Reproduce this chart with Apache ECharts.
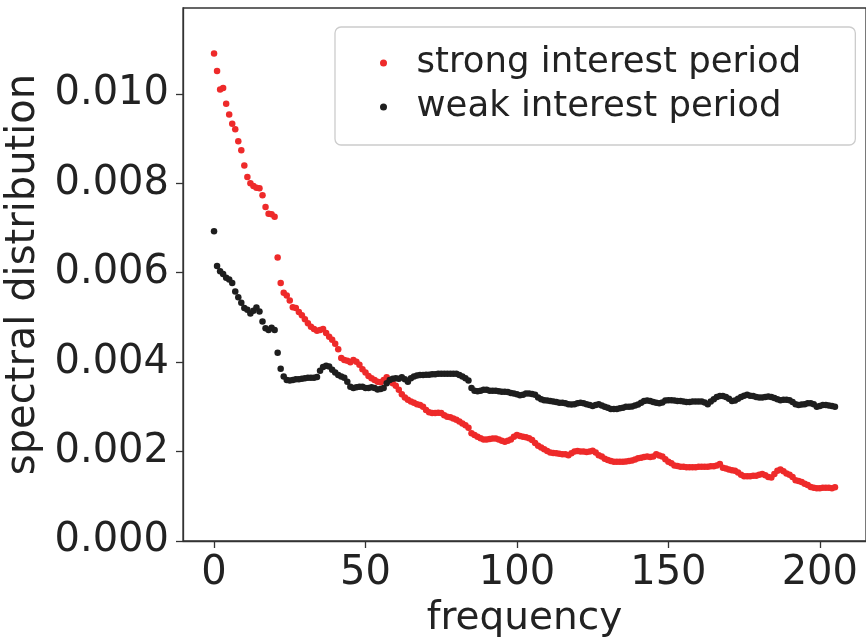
<!DOCTYPE html>
<html>
<head>
<meta charset="utf-8">
<script src="https://cdn.jsdelivr.net/npm/echarts@6/dist/echarts.min.js"></script>
<style>html,body{margin:0;padding:0;background:#fff;}#c{width:866px;height:641px;}</style>
</head>
<body>
<div id="c"></div>
<script>
var strongValues = [
0.01090,0.01051,0.01010,0.01013,0.00978,0.00954,0.00933,0.00921,0.00894,0.00874,
0.00840,0.00814,0.00800,0.00794,0.00790,0.00789,0.00773,0.00747,0.00732,0.00731,
0.00725,0.00634,0.00577,0.00555,0.00549,0.00538,0.00523,0.00521,0.00512,0.00505,
0.00496,0.00487,0.00479,0.00474,0.00470,0.00472,0.00474,0.00465,0.00457,0.00450,
0.00441,0.00429,0.00409,0.00405,0.00403,0.00400,0.00405,0.00401,0.00394,0.00384,
0.00377,0.00369,0.00364,0.00360,0.00356,0.00355,0.00360,0.00366,0.00360,0.00353,
0.00347,0.00338,0.00328,0.00321,0.00316,0.00312,0.00309,0.00306,0.00304,0.00300,
0.00293,0.00288,0.00286,0.00286,0.00287,0.00286,0.00281,0.00278,0.00277,0.00274,
0.00271,0.00267,0.00263,0.00259,0.00253,0.00241,0.00237,0.00233,0.00230,0.00227,
0.00227,0.00228,0.00229,0.00229,0.00227,0.00224,0.00222,0.00224,0.00227,0.00233,
0.00237,0.00235,0.00233,0.00232,0.00230,0.00226,0.00219,0.00213,0.00209,0.00205,
0.00201,0.00198,0.00197,0.00196,0.00195,0.00194,0.00194,0.00192,0.00196,0.00200,
0.00201,0.00200,0.00200,0.00199,0.00200,0.00202,0.00198,0.00192,0.00189,0.00184,
0.00181,0.00179,0.00177,0.00177,0.00177,0.00177,0.00178,0.00179,0.00180,0.00182,
0.00185,0.00186,0.00188,0.00189,0.00188,0.00189,0.00194,0.00191,0.00189,0.00183,
0.00177,0.00174,0.00169,0.00168,0.00166,0.00166,0.00165,0.00165,0.00165,0.00165,
0.00166,0.00166,0.00166,0.00166,0.00167,0.00167,0.00169,0.00172,0.00164,0.00162,
0.00160,0.00158,0.00157,0.00153,0.00148,0.00145,0.00145,0.00145,0.00146,0.00146,
0.00148,0.00150,0.00147,0.00143,0.00142,0.00150,0.00157,0.00160,0.00156,0.00151,
0.00148,0.00143,0.00136,0.00134,0.00132,0.00128,0.00125,0.00121,0.00119,0.00118,
0.00118,0.00119,0.00119,0.00119,0.00118,0.00120
];
var weakValues = [
0.00693,0.00615,0.00603,0.00597,0.00589,0.00585,0.00577,0.00558,0.00545,0.00533,
0.00521,0.00517,0.00509,0.00515,0.00522,0.00513,0.00491,0.00476,0.00472,0.00477,
0.00472,0.00421,0.00385,0.00368,0.00360,0.00359,0.00360,0.00362,0.00362,0.00363,
0.00364,0.00365,0.00365,0.00365,0.00367,0.00381,0.00389,0.00392,0.00390,0.00383,
0.00377,0.00371,0.00368,0.00365,0.00356,0.00345,0.00342,0.00344,0.00345,0.00345,
0.00342,0.00342,0.00344,0.00342,0.00339,0.00340,0.00342,0.00353,0.00360,0.00363,
0.00364,0.00363,0.00366,0.00362,0.00356,0.00364,0.00368,0.00370,0.00371,0.00371,
0.00372,0.00372,0.00373,0.00373,0.00374,0.00374,0.00374,0.00374,0.00374,0.00374,
0.00374,0.00371,0.00368,0.00364,0.00359,0.00342,0.00336,0.00335,0.00336,0.00338,
0.00338,0.00336,0.00336,0.00336,0.00335,0.00334,0.00334,0.00333,0.00331,0.00330,
0.00328,0.00326,0.00327,0.00330,0.00330,0.00329,0.00327,0.00321,0.00317,0.00315,
0.00314,0.00313,0.00312,0.00311,0.00309,0.00309,0.00308,0.00306,0.00305,0.00306,
0.00308,0.00309,0.00308,0.00306,0.00304,0.00302,0.00304,0.00306,0.00303,0.00300,
0.00298,0.00295,0.00295,0.00295,0.00297,0.00298,0.00300,0.00300,0.00301,0.00303,
0.00305,0.00309,0.00313,0.00314,0.00313,0.00311,0.00309,0.00308,0.00310,0.00314,
0.00315,0.00315,0.00314,0.00313,0.00313,0.00312,0.00311,0.00311,0.00312,0.00312,
0.00312,0.00312,0.00310,0.00306,0.00312,0.00317,0.00322,0.00324,0.00324,0.00322,
0.00318,0.00313,0.00314,0.00318,0.00322,0.00325,0.00327,0.00325,0.00324,0.00322,
0.00321,0.00321,0.00322,0.00323,0.00322,0.00320,0.00317,0.00315,0.00316,0.00316,
0.00315,0.00311,0.00306,0.00304,0.00305,0.00306,0.00308,0.00308,0.00306,0.00300,
0.00302,0.00304,0.00304,0.00303,0.00302,0.00300
];
var xTicks = [0, 50, 100, 150, 200];
var yTicks = [0, 0.002, 0.004, 0.006, 0.008, 0.010];
var seriesNames = ['strong interest period', 'weak interest period'];

function toPairs(vals) { return vals.map(function (v, i) { return [i, v]; }); }

var FONT = 'DejaVu Sans';
var TXT = '#222222';
var chart = echarts.init(document.getElementById('c'), null, { renderer: 'canvas' });
chart.setOption({
  animation: false,
  backgroundColor: '#ffffff',
  grid: { left: 183, right: 0, top: 8, bottom: 100, outerBoundsMode: 'none', containLabel: false,
          show: true, borderColor: '#333333', borderWidth: 1.3, backgroundColor: 'transparent' },
  legend: {
    data: seriesNames,
    orient: 'vertical',
    left: 335, top: 27,
    padding: [18, 54, 20, 45],
    itemWidth: 56, itemHeight: 7, itemGap: 8,
    backgroundColor: 'rgba(255,255,255,0.8)',
    borderColor: '#cccccc', borderWidth: 1.3, borderRadius: 6,
    textStyle: { fontFamily: FONT, fontSize: 35.5, color: TXT, lineHeight: 35 }
  },
  xAxis: {
    type: 'value', min: -10.25, max: 215.25,
    name: 'frequency', nameLocation: 'middle', nameGap: 46,
    nameTextStyle: { fontFamily: FONT, fontSize: 39, color: TXT },
    axisLine: { show: true, onZero: false, lineStyle: { color: '#333333', width: 1.3 } },
    axisTick: { show: true, inside: false, length: 7, customValues: xTicks, lineStyle: { color: '#333333', width: 1.3 } },
    axisLabel: { customValues: xTicks, margin: 13, fontFamily: FONT, fontSize: 40, color: TXT },
    splitLine: { show: false }
  },
  yAxis: {
    type: 'value', min: 0, max: 0.01192,
    name: 'spectral distribution', nameLocation: 'middle', nameGap: 132,
    nameTextStyle: { fontFamily: FONT, fontSize: 40, color: TXT },
    axisLine: { show: true, onZero: false, lineStyle: { color: '#333333', width: 1.3 } },
    axisTick: { show: true, inside: false, length: 7, customValues: yTicks, lineStyle: { color: '#333333', width: 1.3 } },
    axisLabel: { customValues: yTicks, margin: 14, fontFamily: FONT, fontSize: 40, color: TXT,
      formatter: function (v) { return v.toFixed(3); } },
    splitLine: { show: false }
  },
  series: [
    { name: seriesNames[0], type: 'scatter', symbol: 'circle', symbolSize: 6.5, data: toPairs(strongValues),
      itemStyle: { color: '#ee2a2a', opacity: 1 } },
    { name: seriesNames[1], type: 'scatter', symbol: 'circle', symbolSize: 6.5, data: toPairs(weakValues),
      itemStyle: { color: '#1e1e1e', opacity: 1 } }
  ]
});
</script>
</body>
</html>
